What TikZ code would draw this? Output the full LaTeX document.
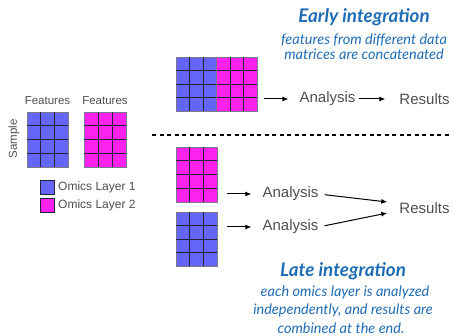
\documentclass[tikz,border=0pt]{standalone}
\usepackage{fontspec}
\setmainfont{Liberation Sans}
\newfontfamily\titlefont{Lato}
\usetikzlibrary{arrows.meta,calc}
\definecolor{omblue}{HTML}{6565F8}
\definecolor{ompink}{HTML}{FA22EC}
\definecolor{txtgrey}{HTML}{4F4F4F}
\definecolor{ttlblue}{HTML}{1F6DB5}
\definecolor{gridc}{HTML}{222238}
\tikzset{
  matbox/.style={draw=gridc!60, line width=0.6pt, inner sep=0pt, outer sep=0pt},
  gridl/.style={draw=gridc, line width=0.7pt},
  lbl/.style={inner sep=0pt, text=txtgrey, font=\fontsize{15}{17}\selectfont},
  small/.style={inner sep=0pt, text=txtgrey, font=\fontsize{11.5}{13}\selectfont},
  legtxt/.style={inner sep=0pt, text=txtgrey, font=\fontsize{12}{14}\selectfont, anchor=west},
  legbox/.style={draw=gridc, line width=0.6pt, minimum width=14pt, minimum height=14pt, inner sep=0pt},
  ttl/.style={inner sep=0pt, text=ttlblue, font=\titlefont\bfseries\itshape\fontsize{18.8}{20}\selectfont},
  desc/.style={inner sep=0pt, text=ttlblue, font=\titlefont\itshape\fontsize{14.5}{16}\selectfont},
  arr/.style={-{Latex[length=6pt,width=5pt]}, line width=1pt, black},
  sep/.style={dashed, dash pattern=on 4pt off 3.5pt, line width=1.6pt, black}
}
% name, colour, x left, y top, cols-1, rows-1, cell w, cell h
\newcommand\omicsgrid[8]{%
  \node[matbox, fill=#2, minimum width={(#5+1)*#7*1pt}, minimum height={(#6+1)*#8*1pt}, anchor=north west] (#1) at (#3,-#4) {};
  \foreach \i in {1,...,#5} \draw[gridl] ([xshift=\i*#7pt]#1.north west) -- ([xshift=\i*#7pt]#1.south west);
  \foreach \j in {1,...,#6} \draw[gridl] ([yshift=-\j*#8pt]#1.north west) -- ([yshift=-\j*#8pt]#1.north east);
}
\begin{document}
\begin{tikzpicture}[x=1pt,y=1pt]
\useasboundingbox (0,0) rectangle (454,-336);
% left input matrices
\omicsgrid{m1}{omblue}{27}{112}{2}{3}{13.67}{13.75}
\omicsgrid{m2}{ompink}{84}{112}{2}{3}{14}{13.75}
\node[small] (f1) at (47.5,-101) {Features};
\node[small] (f2) at (105,-101) {Features};
\node[small, rotate=90] (smp) at (14,-139) {Sample};
% legend
\node[legbox, fill=omblue] (lg1) at (47.5,-187) {};
\node[legbox, fill=ompink] (lg2) at (47.5,-205) {};
\node[legtxt] (lt1) at (58,-187) {Omics Layer 1};
\node[legtxt] (lt2) at (58,-205) {Omics Layer 2};
% early integration
\omicsgrid{eb}{omblue}{176}{57}{2}{3}{13.5}{13.5}
\omicsgrid{ep}{ompink}{216.5}{57}{2}{3}{13.5}{13.5}
\coordinate (s1) at (264,-99);
\node[lbl] (an1) at (327.5,-99) {Analysis};
\node[lbl] (res1) at (424.5,-99) {Results};
\draw[arr, shorten >=11pt] (s1) -- (an1.west);
\draw[arr, shorten <=3pt, shorten >=14pt] (an1.east) -- (res1.west);
\node[ttl] (et) at (364,-17) {Early integration};
\node[desc] (ed1) at (364,-40) {features from different data};
\node[desc] (ed2) at (364,-54.5) {matrices are concatenated};
% separator
\coordinate (d1) at (152,-135);
\coordinate (d2) at (450,-135);
\draw[sep] (d1) -- (d2);
% late integration
\omicsgrid{lp}{ompink}{176}{147}{2}{3}{13.67}{13.75}
\omicsgrid{lb}{omblue}{176}{212}{2}{3}{13.67}{13.6}
\coordinate (s2) at (227,-194);
\coordinate (s3) at (227,-227);
\node[lbl] (an2) at (290.5,-194) {Analysis};
\node[lbl] (an3) at (290.5,-227) {Analysis};
\node[lbl] (res2) at (424.5,-208) {Results};
\draw[arr, shorten >=11pt] (s2) -- (an2.west);
\draw[arr, shorten >=11pt] (s3) -- (an3.west);
\draw[arr, shorten <=6pt] (an2.east) -- ($(res2.west)+(-12,6)$);
\draw[arr, shorten <=6pt] (an3.east) -- ($(res2.west)+(-12,-5)$);
\node[ttl] (lt) at (343,-271) {Late integration};
\node[desc] (ld1) at (345,-292) {each omics layer is analyzed};
\node[desc] (ld2) at (343,-310.5) {independently, and results are};
\node[desc] (ld3) at (341,-328) {combined at the end.};
\end{tikzpicture}
\end{document}
